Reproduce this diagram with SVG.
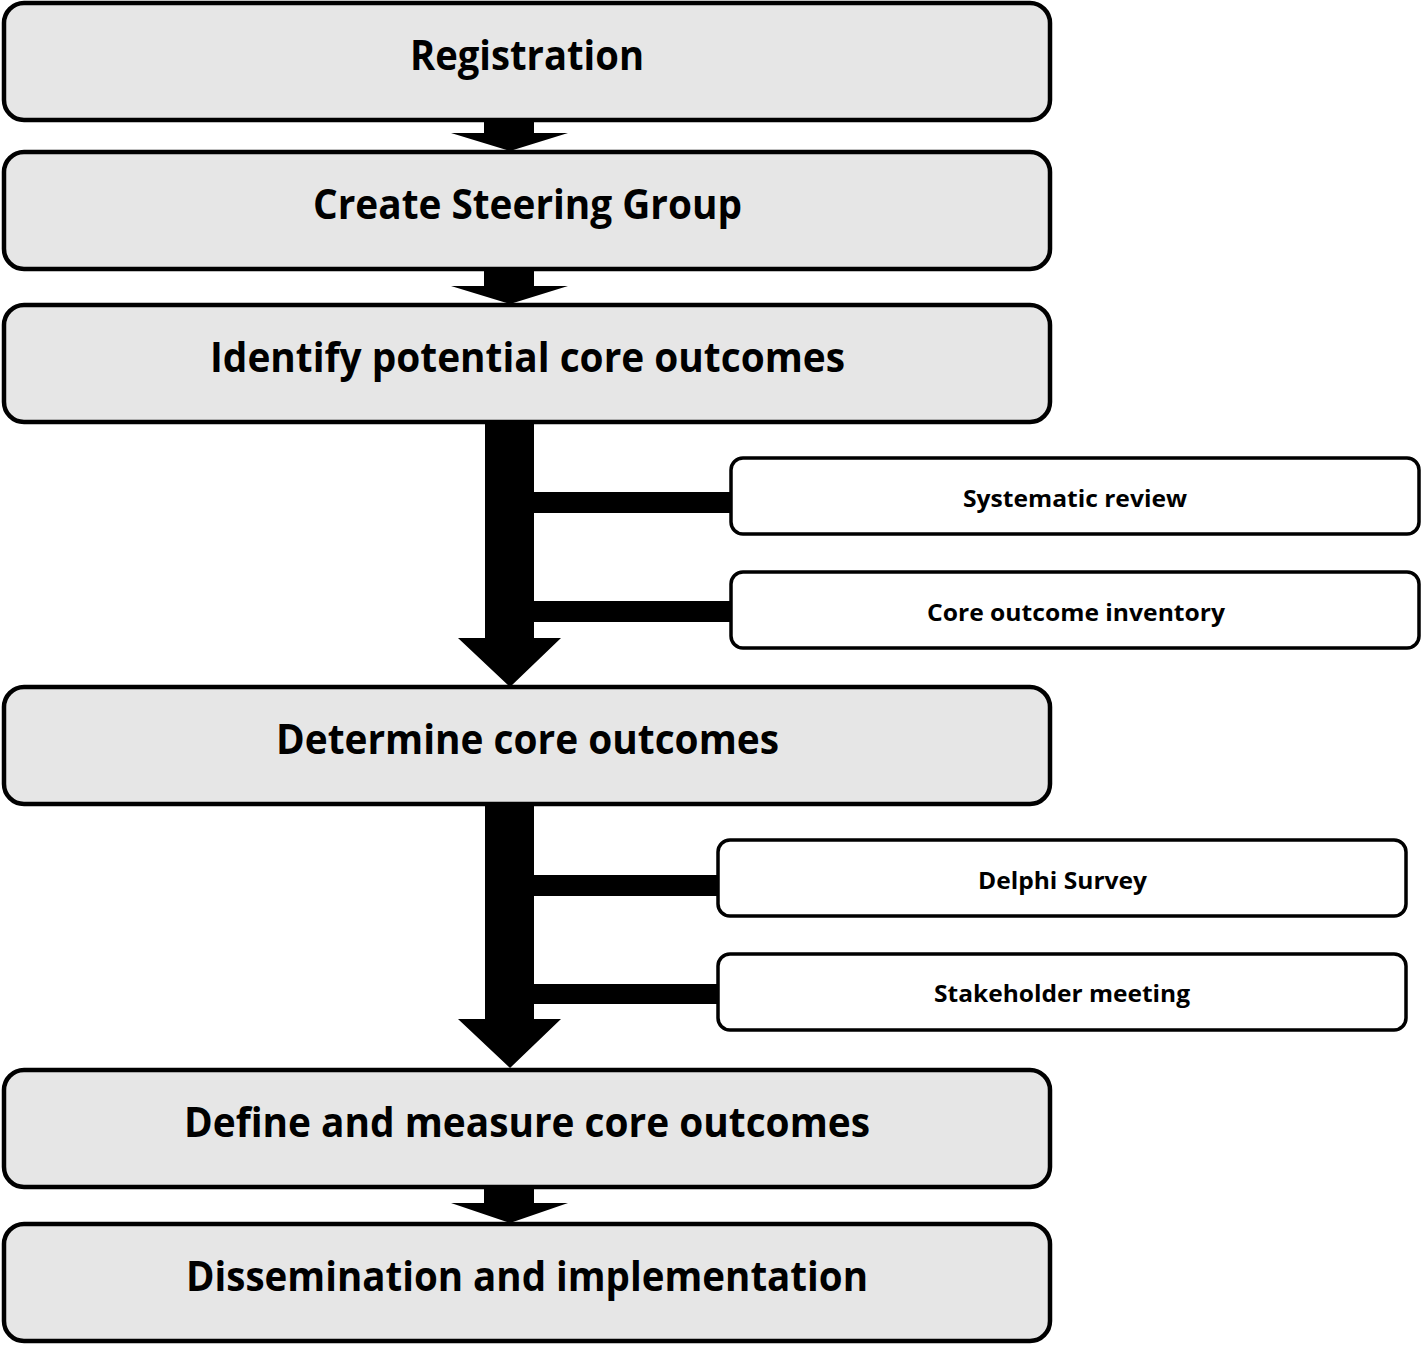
<svg xmlns="http://www.w3.org/2000/svg" width="1422" height="1345" viewBox="0 0 1422 1345">
<style>
.main{fill:#e6e6e6;stroke:#000;stroke-width:4.5}
.side{fill:#fff;stroke:#000;stroke-width:3.5}
.t1{font-family:"Open Sans","Liberation Sans",sans-serif;font-weight:bold;font-size:42px;fill:#000;text-anchor:middle}
.t2{font-family:"Open Sans","Liberation Sans",sans-serif;font-weight:bold;font-size:23.5px;fill:#000;text-anchor:middle}
.c{fill:#000;stroke:none}
</style>
<rect width="1422" height="1345" fill="#fff"/>
<g id="connectors">
<polygon class="c" points="484,120 534,120 534,133 568,133 510,151 451,133 484,133"/>
<polygon class="c" points="484,269 534,269 534,286 568,286 510,304 451,286 484,286"/>
<polygon class="c" points="485,422 534,422 534,638 561,638 510,687 458,638 485,638"/>
<rect class="c" x="530" y="492" width="202" height="21"/>
<rect class="c" x="530" y="601" width="202" height="21"/>
<polygon class="c" points="485,804 534,804 534,1019 561,1019 510,1068 458,1019 485,1019"/>
<rect class="c" x="530" y="875" width="190" height="21"/>
<rect class="c" x="530" y="984" width="190" height="20"/>
<polygon class="c" points="484,1187 534,1187 534,1203 568,1203 510,1223 451,1203 484,1203"/>
</g>
<g id="registration">
<rect class="main" x="4" y="3" width="1046" height="117" rx="20"/>
<text class="t1" x="527" y="70" textLength="234" lengthAdjust="spacingAndGlyphs">Registration</text>
</g>
<g id="steering">
<rect class="main" x="4" y="152" width="1046" height="117" rx="20"/>
<text class="t1" x="527.5" y="219" textLength="429" lengthAdjust="spacingAndGlyphs">Create Steering Group</text>
</g>
<g id="identify">
<rect class="main" x="4" y="305" width="1046" height="117" rx="20"/>
<text class="t1" x="527.5" y="372" textLength="635" lengthAdjust="spacingAndGlyphs">Identify potential core outcomes</text>
</g>
<g id="systematic">
<rect class="side" x="731" y="458" width="688" height="76" rx="12"/>
<text class="t2" x="1075" y="507" textLength="224" lengthAdjust="spacingAndGlyphs">Systematic review</text>
</g>
<g id="inventory">
<rect class="side" x="731" y="572" width="688" height="76" rx="12"/>
<text class="t2" x="1076" y="621" textLength="298" lengthAdjust="spacingAndGlyphs">Core outcome inventory</text>
</g>
<g id="determine">
<rect class="main" x="4" y="687" width="1046" height="117" rx="20"/>
<text class="t1" x="527.5" y="754" textLength="503" lengthAdjust="spacingAndGlyphs">Determine core outcomes</text>
</g>
<g id="delphi">
<rect class="side" x="718" y="840" width="688" height="76" rx="12"/>
<text class="t2" x="1062.5" y="889" textLength="169" lengthAdjust="spacingAndGlyphs">Delphi Survey</text>
</g>
<g id="stakeholder">
<rect class="side" x="718" y="954" width="688" height="76" rx="12"/>
<text class="t2" x="1062" y="1002" textLength="256" lengthAdjust="spacingAndGlyphs">Stakeholder meeting</text>
</g>
<g id="define">
<rect class="main" x="4" y="1070" width="1046" height="117" rx="20"/>
<text class="t1" x="527" y="1137" textLength="686" lengthAdjust="spacingAndGlyphs">Define and measure core outcomes</text>
</g>
<g id="dissemination">
<rect class="main" x="4" y="1224" width="1046" height="117" rx="20"/>
<text class="t1" x="527" y="1291" textLength="682" lengthAdjust="spacingAndGlyphs">Dissemination and implementation</text>
</g>
</svg>
